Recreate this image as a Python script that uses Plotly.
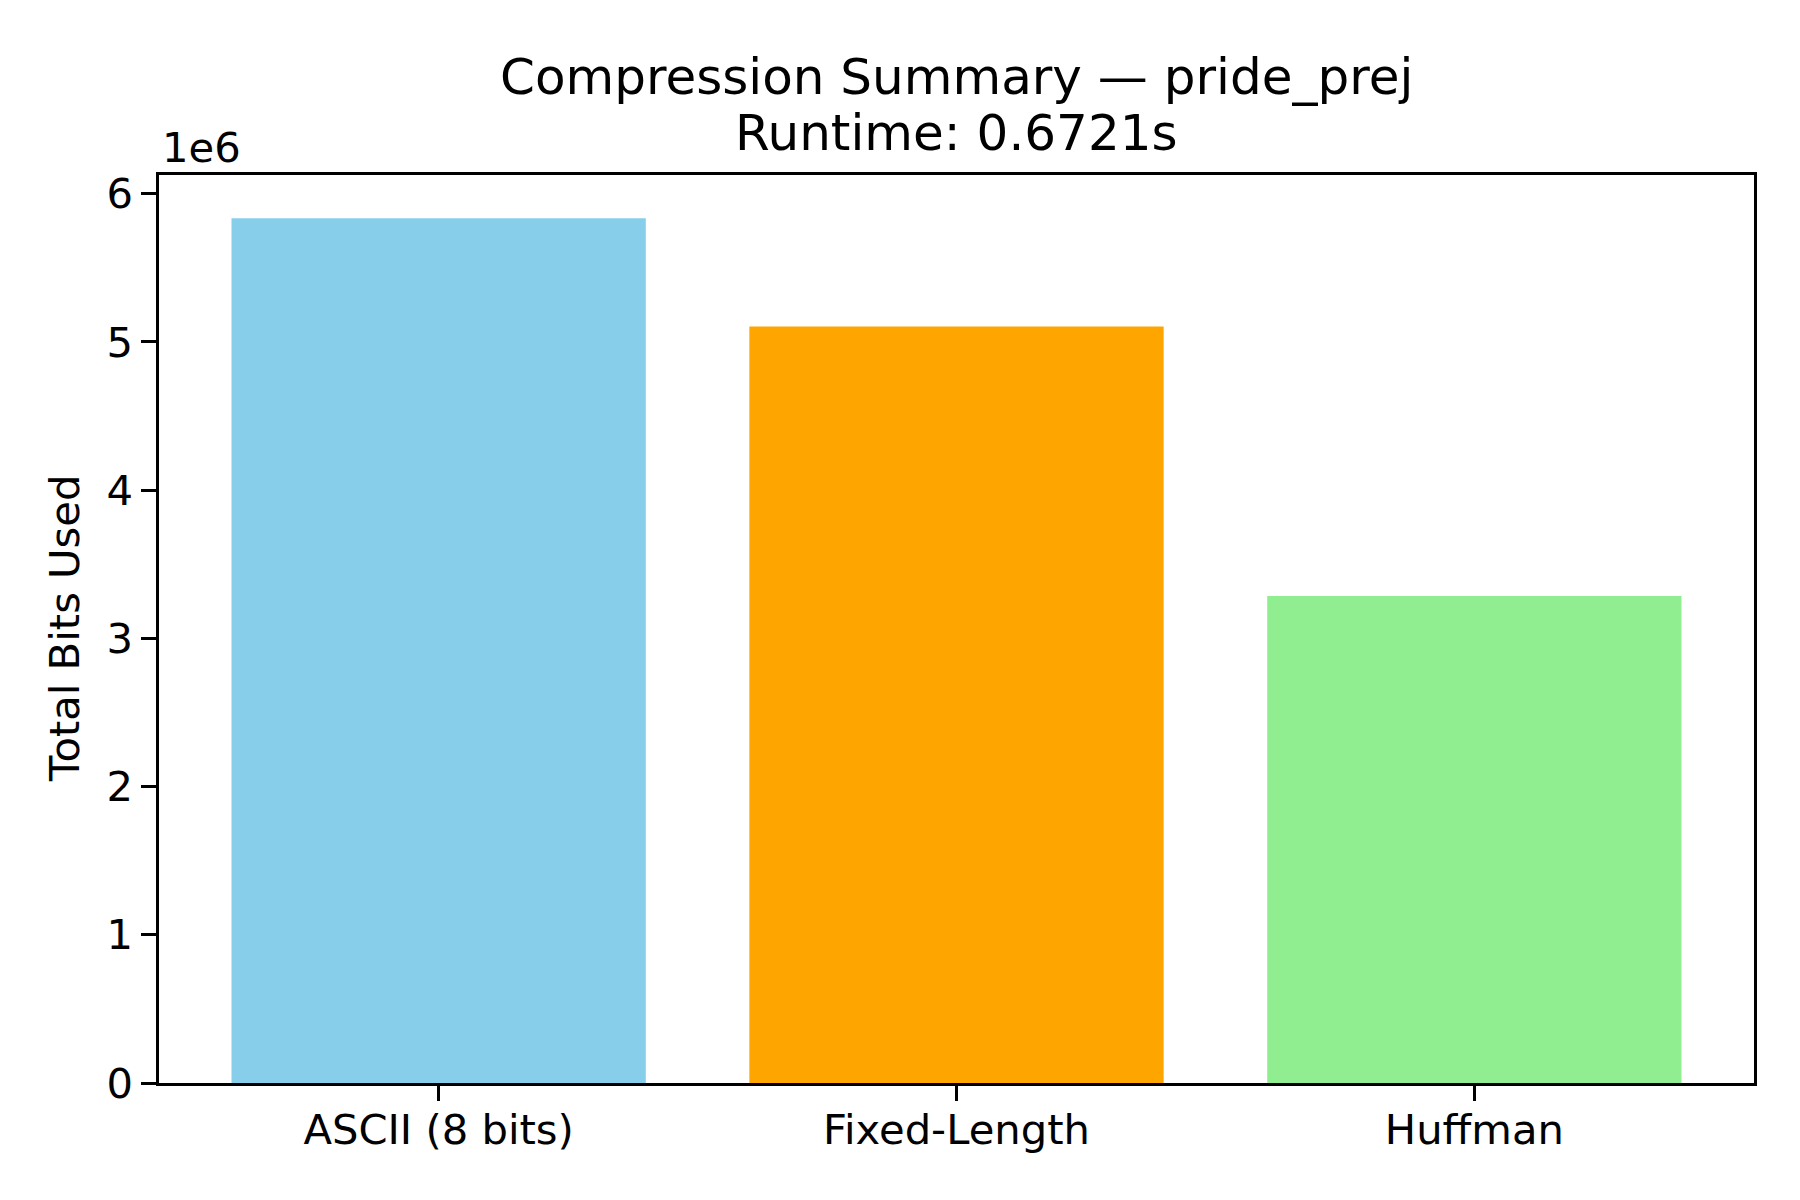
import plotly.graph_objects as go

# values
methods = ["ASCII (8 bits)", "Fixed-Length", "Huffman"]
total_bits = [5835000, 5105000, 3286000]
bar_colors = ["#87CEEB", "#FFA500", "#90EE90"]
y_ticks = [0, 1e6, 2e6, 3e6, 4e6, 5e6, 6e6]
y_tick_text = ["0", "1", "2", "3", "4", "5", "6"]
title_lines = ["Compression Summary — pride_prej", "Runtime: 0.6721s"]

FONT = "DejaVu Sans"
fs = 41.7  # 10pt at 300 dpi

fig = go.Figure()
fig.add_trace(go.Bar(x=methods, y=total_bits, marker=dict(color=bar_colors, line=dict(width=0)), width=0.8))

fig.update_layout(
    width=1800, height=1200,
    margin=dict(l=159, r=46, t=175, b=117),
    plot_bgcolor="white", paper_bgcolor="white",
    font=dict(family=FONT, size=fs, color="black"),
    showlegend=False,
)

fig.update_xaxes(
    range=[-0.54, 2.54],
    showline=True, linecolor="black", linewidth=3.3, mirror=True,
    ticks="outside", ticklen=14.6, tickwidth=3.3, tickcolor="black",
    tickfont=dict(family=FONT, size=fs, color="black"),
    ticklabelstandoff=-7,
    showgrid=False, zeroline=False,
)
fig.update_yaxes(
    range=[0, max(total_bits) * 1.05],
    tickvals=y_ticks, ticktext=y_tick_text,
    showline=True, linecolor="black", linewidth=3.3, mirror=True,
    ticks="outside", ticklen=14.6, tickwidth=3.3, tickcolor="black",
    tickfont=dict(family=FONT, size=fs, color="black"),
    showgrid=False, zeroline=False,
)

# two-line title, placed like matplotlib's
for line, shift in zip(title_lines, [98, 42]):
    fig.add_annotation(
        text=line, xref="paper", yref="paper", x=0.5, y=1,
        xanchor="center", yanchor="middle", yshift=shift, showarrow=False,
        font=dict(family=FONT, size=50, color="black"),
    )

# y axis title
fig.add_annotation(
    text="Total Bits Used", xref="paper", yref="paper", x=0, y=0.5,
    xanchor="center", yanchor="middle", xshift=-95, textangle=-90, showarrow=False,
    font=dict(family=FONT, size=fs, color="black"),
)

# offset text like matplotlib's scientific notation
fig.add_annotation(
    text="1e6", xref="paper", yref="paper", x=0, y=1,
    xanchor="left", yanchor="middle", xshift=1, yshift=28, showarrow=False,
    font=dict(family=FONT, size=fs, color="black"),
)

fig.write_html("out.html", config={"displayModeBar": False},
               post_script="document.body.style.margin='0';")
